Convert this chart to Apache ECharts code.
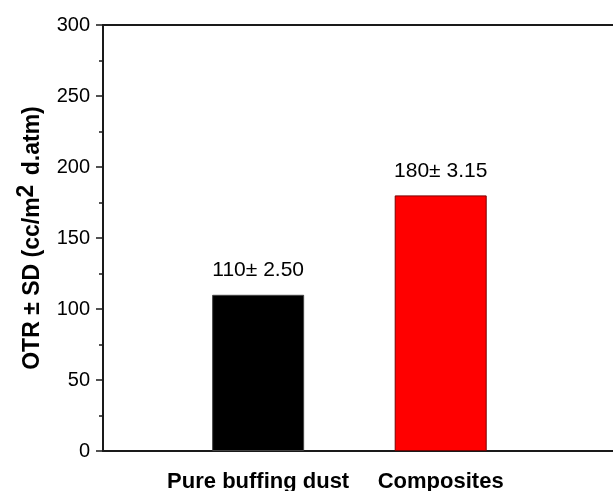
<!DOCTYPE html>
<html>
<head>
<meta charset="utf-8">
<script src="https://cdn.jsdelivr.net/npm/echarts@6/dist/echarts.min.js"></script>
<style>
  html, body { margin: 0; padding: 0; background: #fff; }
  #chart { width: 613px; height: 491px; }
</style>
</head>
<body>
<div id="chart"></div>
<script>
/* data */
const categories = ["Pure buffing dust", "Composites"];
const otrValues = [110, 180];
const sdValues = ["2.50", "3.15"];
const barColors = ["#000000", "#ff0000"];
const barBorders = ["#444444", "#7a0000"];

const fontName = "Liberation Sans, Arial, sans-serif";

/* bars on a value x axis so the spacing matches the figure */
let barData = otrValues.map(function (v, i) {
  return {
    value: [i + 1, v],
    itemStyle: { color: barColors[i], borderColor: barBorders[i], borderWidth: 1 },
  };
});

let myChart = echarts.init(document.getElementById("chart"));
let option = {
  animation: false,
  backgroundColor: "#ffffff",
  grid: {
    left: 103,
    right: 0,
    top: 25,
    bottom: 40,
    outerBoundsMode: "none",
  },
  xAxis: [
    {
      type: "value",
      min: 0.15,
      max: 2.944,
      splitLine: { show: false },
      axisLine: { show: true, onZero: false, lineStyle: { color: "#1a1a1a", width: 2 } },
      axisTick: { show: false },
      axisLabel: {
        customValues: [1, 2],
        formatter: function (v) {
          return categories[Math.round(v) - 1] || "";
        },
        color: "#000",
        fontFamily: fontName,
        fontWeight: "bold",
        fontSize: 22,
        margin: 20,
      },
    },
    {
      // top frame line
      type: "value",
      position: "top",
      min: 0.15,
      max: 2.944,
      splitLine: { show: false },
      axisLine: { show: true, onZero: false, lineStyle: { color: "#1a1a1a", width: 2 } },
      axisTick: { show: false },
      axisLabel: { show: false },
    },
  ],
  yAxis: {
    type: "value",
    min: 0,
    max: 300,
    interval: 50,
    splitLine: { show: false },
    axisLine: { show: true, lineStyle: { color: "#1a1a1a", width: 2 } },
    axisTick: { show: true, inside: false, length: 7, lineStyle: { color: "#1a1a1a", width: 1.5 } },
    minorTick: { show: true, splitNumber: 2, length: 4, lineStyle: { color: "#1a1a1a", width: 1.5 } },
    axisLabel: {
      color: "#000",
      fontFamily: fontName,
      fontSize: 20,
      margin: 13,
    },
    name: "{n|OTR ± SD (cc/m}{s|2}{n| d.atm)}",
    nameLocation: "middle",
    nameRotate: 90,
    nameGap: 54,
    nameMoveOverlap: false,
    nameTextStyle: {
      rich: {
        n: { fontFamily: fontName, fontWeight: "bold", fontSize: 23, color: "#000", lineHeight: 32 },
        s: { fontFamily: fontName, fontWeight: "bold", fontSize: 23, color: "#000", lineHeight: 32, padding: [0, 3, 13, 0] },
      },
    },
  },
  series: [
    {
      type: "bar",
      barWidth: 92,
      data: barData,
      label: {
        show: true,
        position: "top",
        distance: 14,
        formatter: function (p) {
          return otrValues[p.dataIndex] + "± " + sdValues[p.dataIndex];
        },
        color: "#000",
        fontFamily: fontName,
        fontSize: 21,
      },
    },
  ],
};
myChart.setOption(option);
</script>
</body>
</html>
